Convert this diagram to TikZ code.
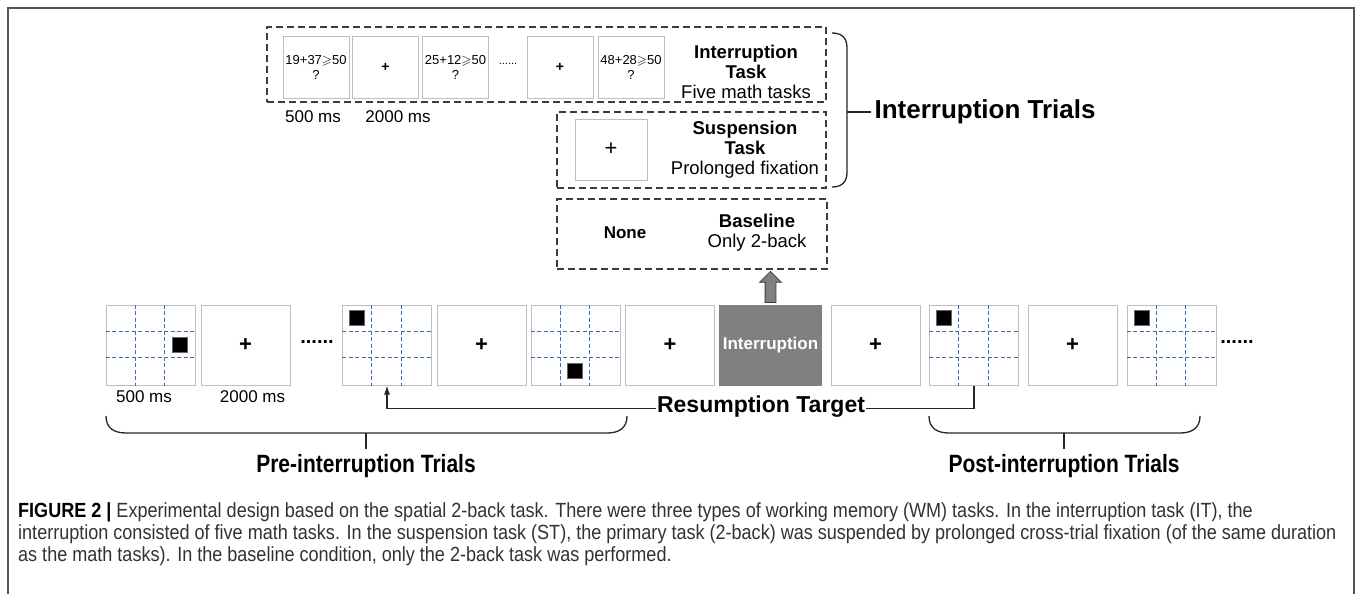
\documentclass[tikz,border=0pt]{standalone}
\usepackage{fontspec}
\usepackage{amssymb}
\setmainfont{Liberation Sans}
\newfontfamily\capfont[FakeStretch=0.84]{Liberation Sans}
\newfontfamily\captionfont[FakeStretch=0.88]{Liberation Sans}
\usetikzlibrary{arrows.meta,shapes.arrows}
\definecolor{boxgray}{RGB}{190,190,190}
\definecolor{dashgray}{RGB}{60,60,60}
\definecolor{gridblue}{RGB}{55,110,180}
\definecolor{intgray}{RGB}{128,128,128}
\definecolor{framegray}{RGB}{85,85,85}
\definecolor{captext}{RGB}{50,50,50}
\begin{document}
\begin{tikzpicture}[x=1pt, y=-1pt,
	trial/.style={draw=boxgray, line width=1pt, minimum width=89pt, minimum height=80pt, inner sep=0pt},
	mathbox/.style={draw=boxgray, line width=1pt, minimum width=66pt, minimum height=61pt, inner sep=0pt, align=center, font=\fontsize{13}{15}\selectfont},
	taskbox/.style={draw=dashgray, line width=1.2pt, dash pattern=on 7pt off 4pt, inner sep=0pt},
	griddash/.style={draw=gridblue, line width=1.2pt, dash pattern=on 4pt off 2.5pt},
	target/.style={fill=black, draw=black!60, line width=0.6pt, minimum size=15pt, inner sep=0pt},
	cross/.style={font=\fontsize{22}{22}\selectfont\bfseries},
	tasklabel/.style={align=center, font=\fontsize{18.5}{20}\selectfont},
	timelabel/.style={font=\fontsize{17}{17}\selectfont},
	brace/.style={line width=1.3pt, draw=black!85},
	]
	\useasboundingbox (0,0) rectangle (1357,594);
	%frame
	\draw[framegray, line width=2pt] (8,600) -- (8,8) -- (1354,8) -- (1354,600);
	
	%interruption task
	\node[taskbox, minimum width=559pt, minimum height=75pt] (itbox) at (546.5,64.5) {};
	\node[mathbox] (m1) at (316,67.5) {19+37$\geqslant$50\\?};
	\node[mathbox, font=\fontsize{14}{14}\selectfont\bfseries] (m2) at (385.5,67.5) {+};
	\node[mathbox] (m3) at (455.5,67.5) {25+12$\geqslant$50\\?};
	\node[font=\fontsize{11}{11}\selectfont] (mdots) at (508,64) {......};
	\node[mathbox, font=\fontsize{14}{14}\selectfont\bfseries] (m4) at (560,67.5) {+};
	\node[mathbox] (m5) at (631,67.5) {48+28$\geqslant$50\\?};
	\node[tasklabel] (itlabel) at (746,72) {\textbf{Interruption}\\\textbf{Task}\\Five math tasks};
	\node[timelabel] (mt1) at (313,117) {500 ms};
	\node[timelabel] (mt2) at (398,117) {2000 ms};
	
	%suspension task
	\node[taskbox, minimum width=269pt, minimum height=76pt] (stbox) at (691.5,150) {};
	\node[mathbox, minimum width=72pt, font=\fontsize{22}{22}\selectfont] (s1) at (611,149.5) {+};
	\node[tasklabel] (stlabel) at (745,150) {\textbf{Suspension}\\\textbf{Task}\\Prolonged fixation};
	
	%baseline
	\node[taskbox, minimum width=270pt, minimum height=70pt] (base) at (692,234) {};
	\node[font=\fontsize{17}{17}\selectfont\bfseries] (none) at (625,233) {None};
	\node[tasklabel] (baselabel) at (757,233) {\textbf{Baseline}\\Only 2-back};
	
	%interruption trials brace
	\draw[brace] (832,33) .. controls (842,33) and (847,38) .. (847,48) -- (847,172) .. controls (847,182) and (842,187) .. (832,187);
	\node[anchor=west, font=\fontsize{26}{26}\selectfont\bfseries] (ittrials) at (871,112) {Interruption Trials};
	\draw[brace] (847,112) -- (ittrials.west);
	
	%trial sequence
	\foreach \n/\x in {gA/150.5, gC/387, gE/575.5, gH/974, gJ/1171.5}{
		\node[trial] (\n) at (\x,345) {};
	}
	\foreach \n/\x in {pB/245.5, pD/481.5, pF/670, pG/875.5, pI/1072.5}{
		\node[trial, cross] (\n) at (\x,345) {+};
	}
	\node[draw=intgray, fill=intgray, minimum width=101pt, minimum height=80pt, text=white, font=\fontsize{17}{17}\selectfont\bfseries] (intr) at (770.5,345) {Interruption};
	\foreach \g/\r/\c in {gA/2/3, gC/1/1, gE/3/2, gH/1/1, gJ/1/1}{
		\foreach \k in {1,2}{
			\draw[griddash] ([xshift=\k*29.667pt]\g.north west) -- ([xshift=\k*29.667pt]\g.south west);
			\draw[griddash] ([yshift=-\k*26.667pt]\g.north west) -- ([yshift=-\k*26.667pt]\g.north east);
		}
		\node[target] (\g sq) at ([xshift={(\c-0.5)*29.667pt}, yshift={-(\r-0.5)*26.667pt}]\g.north west) {};
	}
	\node[font=\fontsize{20}{20}\selectfont\bfseries] (dots1) at (317,342) {......};
	\node[font=\fontsize{20}{20}\selectfont\bfseries] (dots2) at (1237,342) {......};
	\node[timelabel] (bt1) at (144,397) {500 ms};
	\node[timelabel] (bt2) at (252.5,397) {2000 ms};
	
	%arrow to conditions
	\node[single arrow, draw=dashgray, fill=intgray, line width=0.8pt, shape border rotate=90, minimum height=31pt, minimum width=21pt, inner sep=5pt, single arrow head extend=5.5pt, anchor=tail] (up) at ([yshift=2pt]intr.north) {};
	
	%resumption target
	\draw[line width=1.3pt, black!85, -{Latex[length=9pt, width=6pt]}] (gH.south) -- ++(0,23) -| (gC.south);
	\node[fill=white, inner sep=1pt, font=\fontsize{23}{23}\selectfont\bfseries] (resume) at (761,407) {Resumption Target};
	
	%pre / post braces
	\draw[brace] (106,416) .. controls (106,428) and (114,433) .. (126,433) -- (607,433) .. controls (619,433) and (627,428) .. (627,416);
	\draw[brace] (366,433) -- (366,449);
	\node[font=\capfont\fontsize{25}{25}\selectfont\bfseries] (pre) at (366,466) {Pre-interruption Trials};
	\draw[brace] (929,416) .. controls (929,428) and (937,433) .. (949,433) -- (1180,433) .. controls (1192,433) and (1200,428) .. (1200,416);
	\draw[brace] (1064,433) -- (1064,449);
	\node[font=\capfont\fontsize{25}{25}\selectfont\bfseries] (post) at (1064,466) {Post-interruption Trials};
	
	%caption
	\node[anchor=north west, align=left, inner sep=0pt, text=captext, font=\captionfont\fontsize{20.5}{22}\selectfont] (caption) at (18,502) {\textcolor{black}{\bfseries FIGURE 2 |} Experimental design based on the spatial 2-back task. There were three types of working memory (WM) tasks. In the interruption task (IT), the\\
	interruption consisted of five math tasks. In the suspension task (ST), the primary task (2-back) was suspended by prolonged cross-trial fixation (of the same duration\\
	as the math tasks). In the baseline condition, only the 2-back task was performed.};
\end{tikzpicture}
\end{document}
